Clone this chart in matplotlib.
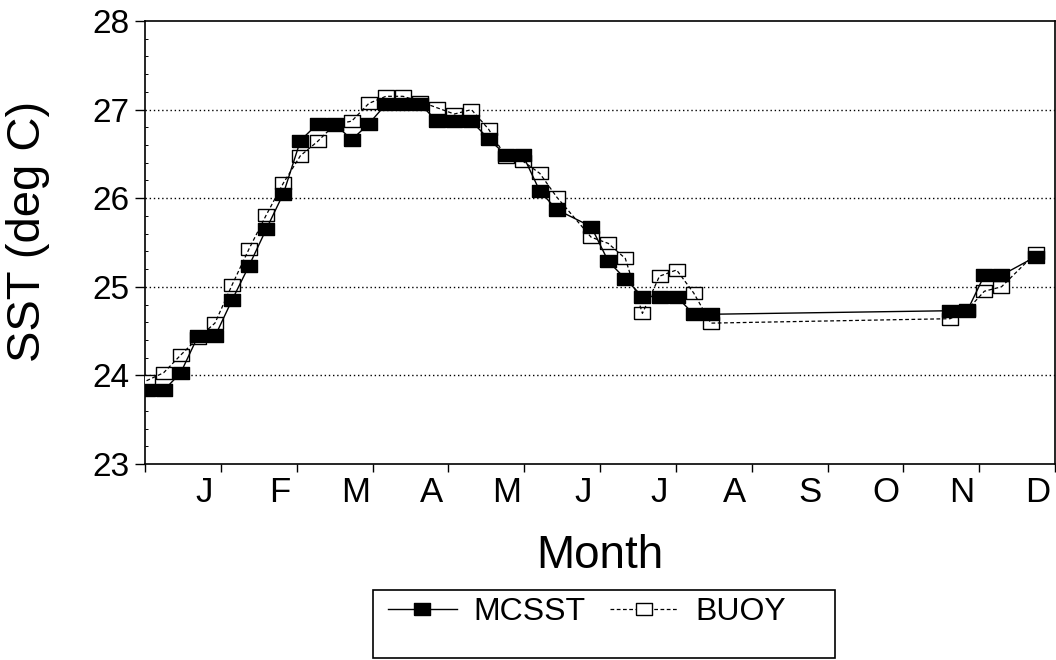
import matplotlib
matplotlib.use('Agg')
import matplotlib.pyplot as plt
import numpy as np
from matplotlib.lines import Line2D
from matplotlib.patches import Rectangle

plt.rcParams['font.family'] = ['Liberation Sans', 'DejaVu Sans']

# weekly mean SST (deg C); weeks without data are simply left out
week = [0, 1, 2, 3, 4, 5, 6, 7, 8, 9, 10, 11, 12, 13, 14, 15, 16, 17, 18, 19,
        20, 21, 22, 23, 24, 26, 27, 28, 29, 30, 31, 32, 33, 47, 48, 49, 50, 52]
mcsst = [23.83, 23.83, 24.03, 24.44, 24.44, 24.85, 25.24, 25.65, 26.05, 26.65,
         26.84, 26.84, 26.66, 26.84, 27.06, 27.06, 27.06, 26.87, 26.87, 26.87,
         26.67, 26.49, 26.49, 26.08, 25.87, 25.68, 25.29, 25.09, 24.89, 24.89,
         24.89, 24.69, 24.69, 24.73, 24.73, 25.13, 25.13, 25.34]
buoy = [23.94, 24.03, 24.23, 24.42, 24.59, 25.02, 25.43, 25.81, 26.17, 26.48,
        26.64, 26.83, 26.87, 27.07, 27.15, 27.15, 27.09, 27.02, 26.95, 27.00,
        26.78, 26.47, 26.42, 26.28, 26.01, 25.56, 25.49, 25.32, 24.70, 25.12,
        25.19, 24.93, 24.59, 24.64, 24.74, 24.95, 25.00, 25.38]
month_labels = ['J', 'F', 'M', 'A', 'M', 'J', 'J', 'A', 'S', 'O', 'N', 'D']

# wide rectangle marker, like the old plotting package used
rect = [(-1, -0.78), (1, -0.78), (1, 0.78), (-1, 0.78), (-1, -0.78)]

fig = plt.figure(figsize=(10.56, 6.6), dpi=100)
ax = fig.add_axes([145 / 1056, 1 - 464 / 660, 910 / 1056, 443 / 660])

# buoy boxes first, then the dashed line over them, MCSST on top
ax.plot(week, buoy, ls='none', marker=rect, ms=11.8, mfc='white', mec='black',
        mew=1.0, zorder=3)
ax.plot(week, buoy, color='black', lw=0.9, ls=(0, (3, 2)), zorder=4)
ax.plot(week, mcsst, color='black', lw=1.0, marker=rect, ms=11.8, mfc='black',
        mec='black', mew=1.0, zorder=5)

x0, x1 = -0.09, 53.13
ax.set_xlim(x0, x1)
ax.set_ylim(23, 28)

bounds = np.linspace(x0, x1, 13)
ax.set_xticks(bounds)
ax.set_xticklabels([])
ax.set_xticks(bounds[1:] - 1.0, minor=True)
ax.set_xticklabels(month_labels, minor=True, fontsize=25)
ax.tick_params(axis='x', which='major', direction='out', length=6, width=1.0)
ax.tick_params(axis='x', which='minor', length=0, pad=9)

ax.set_yticks([23, 24, 25, 26, 27, 28])
ax.set_yticks(np.arange(23, 28.01, 0.2), minor=True)
ax.tick_params(axis='y', which='major', direction='out', length=7, width=1.0,
               labelsize=24, pad=4)
ax.tick_params(axis='y', which='minor', direction='in', length=2.5, width=0.7)

for v in [24, 25, 26, 27]:
    ax.axhline(v, color='black', lw=1.0, ls=(0, (1, 2)), zorder=1)

for s in ax.spines.values():
    s.set_linewidth(1.2)

ax.set_xlabel('Month', fontsize=33)
ax.xaxis.set_label_coords(0.5, -0.235)
ax.xaxis.label.set_va('baseline')
ax.set_ylabel('SST (deg C)', fontsize=34)
ax.yaxis.set_label_coords(-0.129, 0.524)
ax.yaxis.label.set_va('center')

# legend
h1 = Line2D([], [], color='black', lw=1.0, marker=rect, ms=11, mfc='black', mec='black')
h2 = Line2D([], [], color='black', lw=0.9, ls=(0, (3, 2)), marker=rect, ms=11,
            mfc='white', mec='black')
fig.legend([h1, h2], ['MCSST', 'BUOY'], loc='center left',
           bbox_to_anchor=(388 / 1056, 1 - 612 / 660), ncol=2, frameon=False,
           fontsize=23, handlelength=2.15, handletextpad=0.53, columnspacing=0.75,
           borderpad=0, borderaxespad=0)
fig.patches.append(Rectangle((373 / 1056, 1 - 658 / 660), 462 / 1056, 68 / 660,
                             transform=fig.transFigure, fill=False, lw=1.2,
                             color='black'))

fig.savefig('out.png', dpi=100)
